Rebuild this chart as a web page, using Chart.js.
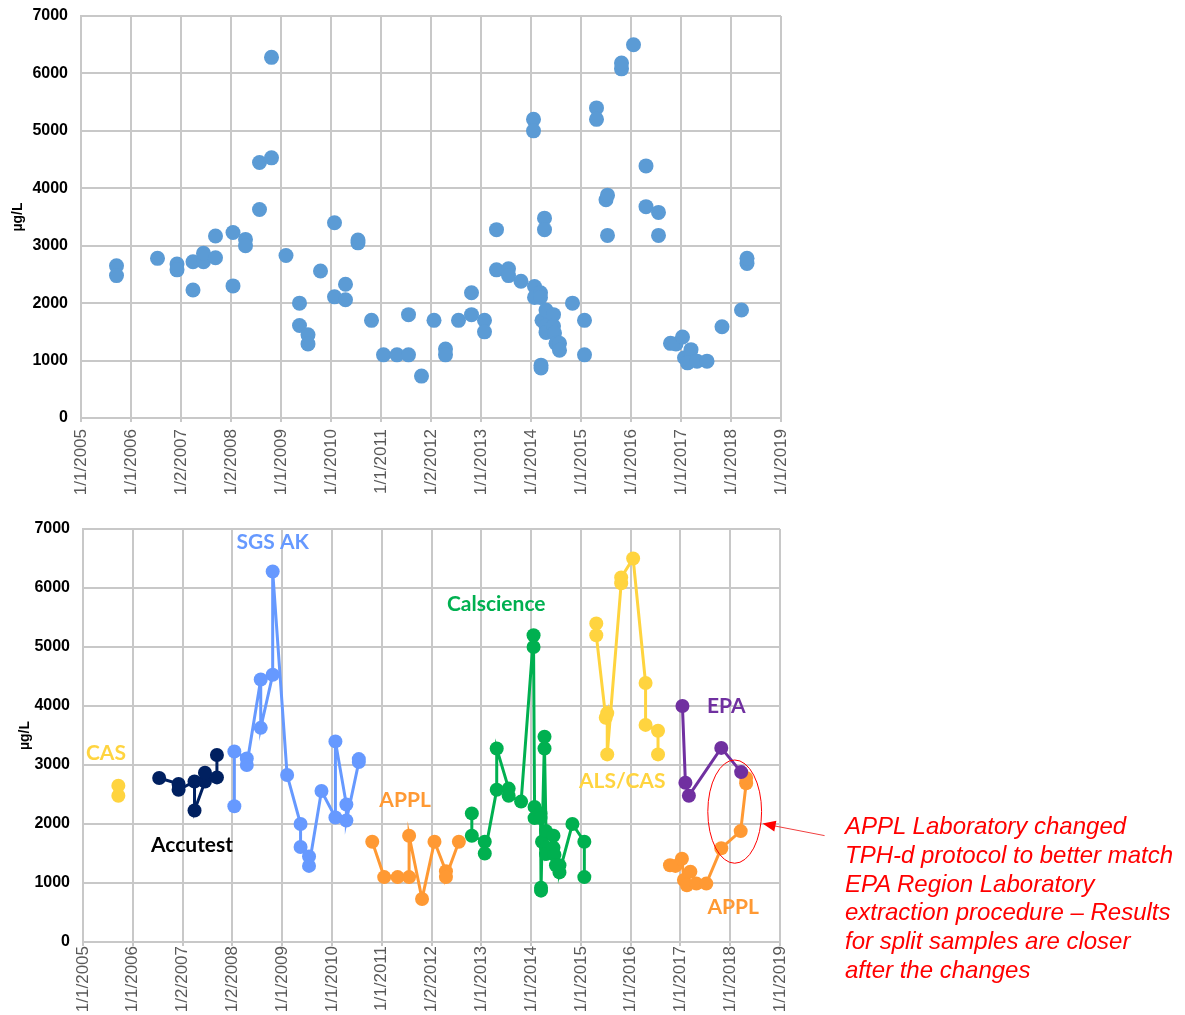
<!DOCTYPE html>
<html>
<head>
<meta charset="utf-8">
<script src="https://cdn.jsdelivr.net/npm/chart.js@4.4.1/dist/chart.umd.min.js"></script>
<style>
  body { margin: 0; background: #fff; width: 1185px; height: 1015px; position: relative; overflow: hidden; }
  canvas { position: absolute; left: 0; }
  #top { top: 0; }
  #bottom { top: 510px; }
  #note {
    position: absolute; left: 845px; top: 812px;
    font-family: "Liberation Sans", Arial, sans-serif; font-style: italic;
    font-size: 24px; line-height: 28.8px; color: #ff0000; white-space: nowrap;
  }
</style>
</head>
<body>
<canvas id="top" width="800" height="505"></canvas>
<canvas id="bottom" width="860" height="505"></canvas>
<div id="note">APPL Laboratory changed<br>TPH-d protocol to better match<br>EPA Region Laboratory<br>extraction procedure – Results<br>for split samples are closer<br>after the changes</div>
<script>
// sample dates as decimal years, values in ug/L, one pair of arrays per laboratory
var casDates = [2005.71, 2005.71]
var casVals  = [2650, 2480]

var accutestDates = [2006.53, 2006.92, 2006.92, 2007.24, 2007.24, 2007.45, 2007.45, 2007.69, 2007.69]
var accutestVals  = [2780, 2680, 2580, 2720, 2230, 2720, 2870, 2790, 3170]

var sgsDates = [2008.04, 2008.04, 2008.29, 2008.29, 2008.57, 2008.57, 2008.81, 2008.81, 2009.10, 2009.37,
                2009.37, 2009.54, 2009.54, 2009.79, 2010.07, 2010.07, 2010.29, 2010.29, 2010.54, 2010.54]
var sgsVals  = [2300, 3230, 3110, 3000, 4450, 3630, 4530, 6280, 2830, 2000,
                1610, 1450, 1290, 2560, 2110, 3400, 2330, 2060, 3050, 3100]

var applEarlyDates = [2010.81, 2011.05, 2011.32, 2011.55, 2011.55, 2011.81, 2012.06, 2012.29, 2012.29, 2012.55]
var applEarlyVals  = [1700, 1100, 1100, 1100, 1800, 730, 1700, 1200, 1100, 1700]

var calDates = [2012.81, 2012.81, 2013.07, 2013.07, 2013.31, 2013.31, 2013.55, 2013.55, 2013.80, 2014.05,
                2014.05, 2014.07, 2014.07, 2014.19, 2014.19, 2014.20, 2014.20, 2014.22, 2014.27, 2014.27,
                2014.30, 2014.30, 2014.30, 2014.45, 2014.45, 2014.47, 2014.50, 2014.57, 2014.57, 2014.83,
                2015.07, 2015.07]
var calVals  = [2180, 1800, 1700, 1500, 2580, 3280, 2600, 2480, 2380, 5200,
                5000, 2290, 2100, 2180, 2100, 920, 870, 1700, 3480, 3280,
                1880, 1600, 1490, 1800, 1600, 1480, 1300, 1300, 1180, 2000,
                1700, 1100]

var alsDates = [2015.31, 2015.31, 2015.50, 2015.53, 2015.53, 2015.81, 2015.81, 2016.05, 2016.30, 2016.30, 2016.55, 2016.55]
var alsVals  = [5400, 5200, 3800, 3880, 3180, 6080, 6180, 6500, 4390, 3680, 3580, 3180]

var epaDates = [2017.04, 2017.10, 2017.17, 2017.82, 2018.22]
var epaVals  = [4000, 2700, 2480, 3290, 2880]

var applLateDates = [2016.79, 2016.90, 2017.03, 2017.07, 2017.20, 2017.13, 2017.32, 2017.52, 2017.82, 2018.21, 2018.32, 2018.32]
var applLateVals  = [1300, 1290, 1410, 1050, 1190, 960, 990, 990, 1590, 1880, 2690, 2780]

var tickLabels = ['1/1/2005', '1/1/2006', '1/2/2007', '1/2/2008', '1/1/2009', '1/1/2010', '1/1/2011',
                  '1/2/2012', '1/1/2013', '1/1/2014', '1/1/2015', '1/1/2016', '1/1/2017', '1/1/2018', '1/1/2019']

function pts(dates, vals) {
    return dates.map(function (d, i) { return { x: d, y: vals[i] } })
}

var gridColor = '#c8c8c8'

function makeScales(yWidth, xHeight, titlePad, labelPad) {
    return {
        x: {
            type: 'linear', min: 2005, max: 2019,
            afterFit: function (s) {
                s.height = xHeight
                s.paddingLeft = 0; s.paddingRight = 0; s.paddingTop = 0; s.paddingBottom = 0
            },
            grid: { color: gridColor, lineWidth: 2, drawTicks: true, tickLength: 4 },
            border: { color: gridColor, width: 2 },
            ticks: {
                stepSize: 1, autoSkip: false, minRotation: 90, maxRotation: 90, padding: labelPad,
                color: '#595959',
                font: { family: '"Liberation Sans", Arial, sans-serif', size: 17 },
                callback: function (v) { return tickLabels[Math.round(v - 2005)] }
            }
        },
        y: {
            min: 0, max: 7000,
            afterFit: function (s) {
                s.width = yWidth
                s.paddingLeft = 0; s.paddingRight = 0; s.paddingTop = 0; s.paddingBottom = 0
            },
            grid: { color: gridColor, lineWidth: 2, drawTicks: false },
            border: { color: gridColor, width: 2 },
            ticks: {
                stepSize: 1000, padding: 13, color: '#000',
                font: { family: '"Liberation Sans", Arial, sans-serif', size: 16, weight: 'bold' },
                callback: function (v) { return String(v) }
            },
            title: {
                display: true, text: 'µg/L', color: '#000', padding: { top: titlePad, bottom: 0 },
                font: { family: '"Liberation Sans", Arial, sans-serif', size: 14, weight: 'bold' }
            }
        }
    }
}

var commonPlugins = { legend: { display: false }, tooltip: { enabled: false } }

//-------------
//- TOP CHART: all laboratory samples except EPA -
//-------------
var allPoints = [].concat(
    pts(casDates, casVals), pts(accutestDates, accutestVals), pts(sgsDates, sgsVals),
    pts(applEarlyDates, applEarlyVals), pts(calDates, calVals), pts(alsDates, alsVals),
    pts(applLateDates, applLateVals))

new Chart(document.getElementById('top').getContext('2d'), {
    type: 'scatter',
    data: {
        datasets: [{
            data: allPoints,
            backgroundColor: '#5b9bd5',
            borderWidth: 0,
            pointRadius: 7.5
        }]
    },
    options: {
        responsive: false, animation: false, devicePixelRatio: 1,
        layout: { padding: { top: 16, right: 19, left: 0, bottom: 0 } },
        scales: makeScales(81, 87, 10, 7),
        plugins: commonPlugins
    }
})

//-------------
//- BOTTOM CHART: one line per laboratory -
//-------------
var labNotes = [
    { text: 'CAS',        x: 2005.46, y: 3204, color: '#ffd43f' },
    { text: 'Accutest',   x: 2007.19, y: 1642, color: '#000000' },
    { text: 'SGS AK',     x: 2008.81, y: 6769, color: '#6699ff' },
    { text: 'APPL',       x: 2011.47, y: 2406, color: '#ff9933' },
    { text: 'Calscience', x: 2013.30, y: 5717, color: '#00b050' },
    { text: 'ALS/CAS',    x: 2015.83, y: 2728, color: '#ffd43f' },
    { text: 'EPA',        x: 2017.92, y: 4002, color: '#7030a0' },
    { text: 'APPL',       x: 2018.06, y: 590,  color: '#ff9933' }
]

var notesPlugin = {
    id: 'notes',
    afterDraw: function (chart) {
        var ctx = chart.ctx, sx = chart.scales.x, sy = chart.scales.y
        ctx.save()
        ctx.font = 'bold 21px Lato, "Open Sans", sans-serif'
        ctx.textAlign = 'center'
        ctx.textBaseline = 'middle'
        labNotes.forEach(function (n) {
            ctx.fillStyle = n.color
            ctx.fillText(n.text, sx.getPixelForValue(n.x), sy.getPixelForValue(n.y))
        })

        // ellipse round the last APPL samples
        var cx = sx.getPixelForValue(2018.09), cy = sy.getPixelForValue(2210)
        var rx = sx.getPixelForValue(2018.09 + 0.54) - cx
        var ry = cy - sy.getPixelForValue(2210 + 875)
        ctx.strokeStyle = '#ff0000'
        ctx.lineWidth = 1
        ctx.beginPath()
        ctx.ellipse(cx, cy, rx, ry, 0, 0, Math.PI * 2)
        ctx.stroke()

        // arrow from the note to the ellipse
        var tipX = cx + rx + 1, tipY = cy + 12
        var tailX = tipX + 62, tailY = tipY + 12
        var ang = Math.atan2(tipY - tailY, tipX - tailX)
        ctx.strokeStyle = '#f04040'
        ctx.beginPath()
        ctx.moveTo(tailX, tailY)
        ctx.lineTo(tipX + 10 * Math.cos(ang + Math.PI), tipY + 10 * Math.sin(ang + Math.PI))
        ctx.stroke()
        ctx.fillStyle = '#ff0000'
        ctx.beginPath()
        ctx.moveTo(tipX, tipY)
        ctx.lineTo(tipX - 13 * Math.cos(ang) + 5.5 * Math.sin(ang), tipY - 13 * Math.sin(ang) - 5.5 * Math.cos(ang))
        ctx.lineTo(tipX - 13 * Math.cos(ang) - 5.5 * Math.sin(ang), tipY - 13 * Math.sin(ang) + 5.5 * Math.cos(ang))
        ctx.closePath()
        ctx.fill()
        ctx.restore()
    }
}

function labLine(dates, vals, color) {
    return {
        data: pts(dates, vals),
        showLine: true,
        borderColor: color,
        backgroundColor: color,
        borderWidth: 3,
        pointRadius: 7,
        pointBorderWidth: 0
    }
}

new Chart(document.getElementById('bottom').getContext('2d'), {
    type: 'scatter',
    data: {
        datasets: [
            labLine(casDates, casVals, '#ffd43f'),
            labLine(accutestDates, accutestVals, '#002060'),
            labLine(sgsDates, sgsVals, '#6699ff'),
            labLine(applEarlyDates, applEarlyVals, '#ff9933'),
            labLine(calDates, calVals, '#00b050'),
            labLine(alsDates, alsVals, '#ffd43f'),
            labLine(epaDates, epaVals, '#7030a0'),
            labLine(applLateDates, applLateVals, '#ff9933')
        ]
    },
    options: {
        responsive: false, animation: false, devicePixelRatio: 1,
        layout: { padding: { top: 19, right: 80, left: 0, bottom: 0 } },
        scales: makeScales(83, 73, 17, 0),
        plugins: commonPlugins
    },
    plugins: [notesPlugin]
})
</script>
</body>
</html>
